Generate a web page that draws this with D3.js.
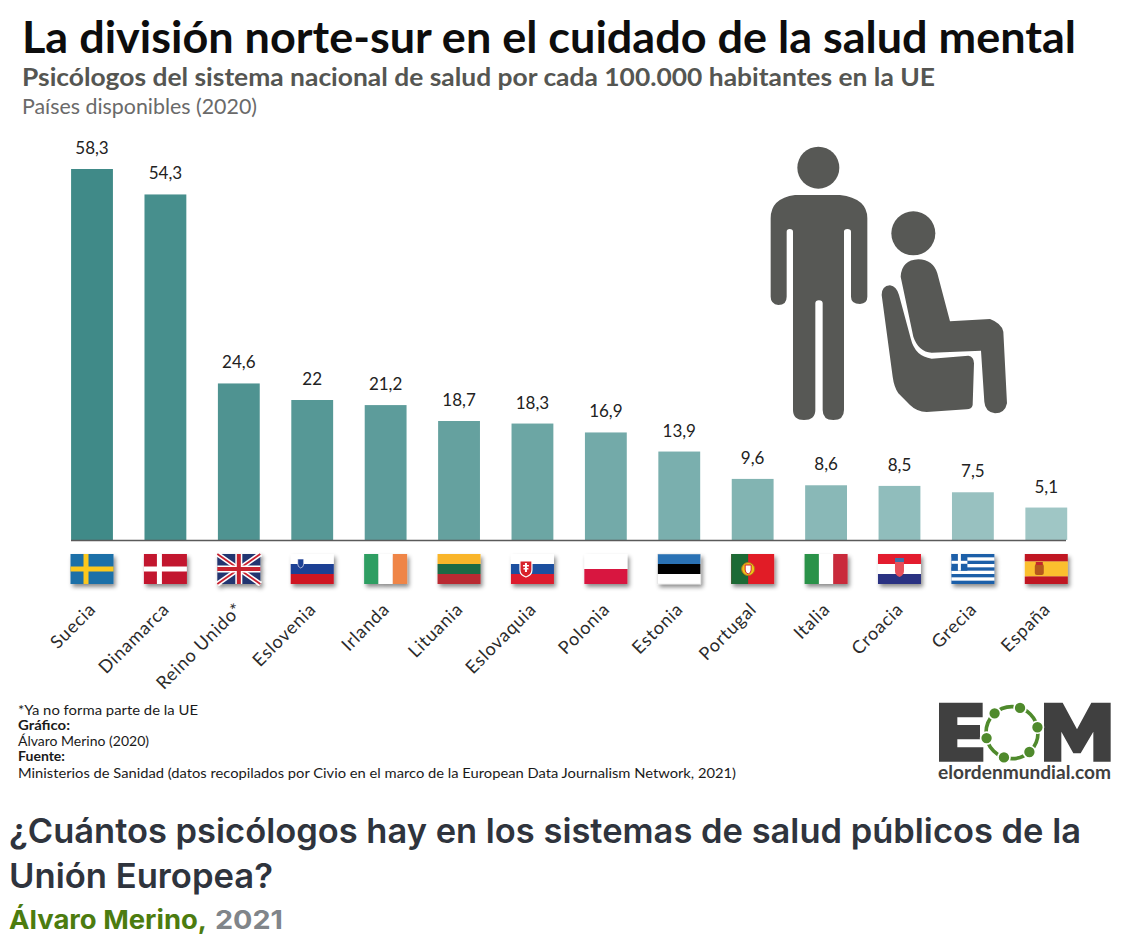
<!DOCTYPE html>
<html><head><meta charset="utf-8">
<script src="https://d3js.org/d3.v7.min.js"></script>
<style>html,body{margin:0;background:#fff}svg{display:block}</style></head>
<body><svg id="c" width="1142" height="950"></svg>
<script>
const countries=["Suecia","Dinamarca","Reino Unido*","Eslovenia","Irlanda","Lituania","Eslovaquia","Polonia","Estonia","Portugal","Italia","Croacia","Grecia","España"];
const values=[58.3,54.3,24.6,22,21.2,18.7,18.3,16.9,13.9,9.6,8.6,8.5,7.5,5.1];
const valueLabels=["58,3","54,3","24,6","22","21,2","18,7","18,3","16,9","13,9","9,6","8,6","8,5","7,5","5,1"];
const flagStripes={
 "Suecia":["#1f6fa8"],"Dinamarca":["#c2172f"],"Reino Unido*":["#24356f"],
 "Eslovenia":["#ffffff","#1f3f94","#cf1421"],"Irlanda":["v","#2f9e62","#ffffff","#ef8547"],
 "Lituania":["#f9b52c","#1f6a45","#b92a32"],"Eslovaquia":["#ffffff","#1b4f9f","#dd1f2d"],
 "Polonia":["#ffffff","#d8143f"],"Estonia":["#2a72b5","#000000","#ffffff"],
 "Portugal":["#e11f26"],"Italia":["v","#2a9249","#ffffff","#c92b3a"],
 "Croacia":["#e31e2d","#ffffff","#2a3382"],"Grecia":["#1f5ea8"],"España":["#c01622","#fbbf2d","#fbbf2d","#c01622"]};
const FONT="'Lato','Noto Sans',sans-serif";
const svg=d3.select("#c");
const defs=svg.append("defs");
const sh=defs.append("filter").attr("id","sh").attr("x","-20%").attr("y","-20%").attr("width","150%").attr("height","170%");
sh.append("feDropShadow").attr("dx",2).attr("dy",3).attr("stdDeviation",2.2).attr("flood-color","#000").attr("flood-opacity",.45);

function txt(s,x,y,size,weight,fill,len,extra){
 const t=svg.append("text").attr("x",x).attr("y",y).attr("font-size",size).attr("font-weight",weight).attr("fill",fill).attr("font-family",extra||FONT).text(s);
 if(len)t.attr("textLength",len).attr("lengthAdjust","spacingAndGlyphs");
 return t;}
txt("La división norte-sur en el cuidado de la salud mental",22,53,43,700,"#0d0d0d",1054);
txt("Psicólogos del sistema nacional de salud por cada 100.000 habitantes en la UE",22,86,24,700,"#555652",913);
txt("Países disponibles (2020)",22,114,22,400,"#6a6a6a",235);

const x=d3.scaleBand().domain(countries).range([55.3,1083]).paddingInner(.43).paddingOuter(.215);
const y=d3.scaleLinear().domain([0,58.3]).range([540,169]);
const col=d3.scaleLinear().domain([0,13]).range(["#408a88","#9fc6c5"]);
svg.append("g").selectAll("rect").data(countries).join("rect")
 .attr("x",d=>x(d)).attr("width",x.bandwidth())
 .attr("y",(d,i)=>y(values[i])).attr("height",(d,i)=>y(0)-y(values[i]))
 .attr("fill",(d,i)=>col(i));
svg.append("line").attr("x1",71).attr("x2",1066).attr("y1",540.5).attr("y2",540.5).attr("stroke","#5a5a5a").attr("stroke-width",1.6);
svg.append("g").selectAll("text").data(countries).join("text")
 .attr("x",d=>x(d)+x.bandwidth()/2).attr("y",(d,i)=>y(values[i])-15)
 .attr("text-anchor","middle").attr("font-family",FONT).attr("font-size",17).attr("fill","#222")
 .text((d,i)=>valueLabels[i]);

const fw=43,fh=30,fy=554;
countries.forEach(c=>{
 const fx=x(c)+x.bandwidth()/2-fw/2;
 const g=svg.append("g").attr("transform",`translate(${fx},${fy})`).attr("filter","url(#sh)");
 let st=flagStripes[c], vert=st[0]==="v"; if(vert)st=st.slice(1);
 const sc=d3.scaleBand().domain(d3.range(st.length)).range([0,vert?fw:fh]);
 st.forEach((f,i)=>{
  if(vert)g.append("rect").attr("x",sc(i)).attr("y",0).attr("width",sc.bandwidth()).attr("height",fh).attr("fill",f);
  else g.append("rect").attr("x",0).attr("y",sc(i)).attr("width",fw).attr("height",sc.bandwidth()).attr("fill",f);
 });
 const R=(a,b,w,h,f)=>g.append("rect").attr("x",a).attr("y",b).attr("width",w).attr("height",h).attr("fill",f);
 const L=(a,b,c2,d,s,w)=>g.append("line").attr("x1",a).attr("y1",b).attr("x2",c2).attr("y2",d).attr("stroke",s).attr("stroke-width",w);
 if(c==="Suecia"){R(13,0,5,fh,"#fcc81e");R(0,12.5,fw,5,"#fcc81e");}
 if(c==="Dinamarca"){R(13,0,5,fh,"#fff");R(0,12.5,fw,5,"#fff");}
 if(c==="Reino Unido*"){
  L(0,0,fw,fh,"#fff",5);L(fw,0,0,fh,"#fff",5);L(0,0,fw,fh,"#c8202f",1.8);L(fw,0,0,fh,"#c8202f",1.8);
  R(18,0,7,fh,"#fff");R(0,11.5,fw,7,"#fff");R(19.5,0,4,fh,"#c8202f");R(0,13,fw,4,"#c8202f");}
 if(c==="Eslovenia"){g.append("path").attr("d","M7 5h6v5q0 3-3 4q-3-1-3-4z").attr("fill","#1f3f94").attr("stroke","#fff").attr("stroke-width",.6);}
 if(c==="Eslovaquia"){g.append("path").attr("d","M9 7h12v9q0 5-6 7q-6-2-6-7z").attr("fill","#d8202c").attr("stroke","#fff").attr("stroke-width",1.2);R(14,9,2,9,"#fff");R(12,11,6,1.5,"#fff");R(12.5,14,5,1.5,"#fff");}
 if(c==="Portugal"){R(0,0,17,fh,"#1f6a34");g.append("circle").attr("cx",17).attr("cy",15).attr("r",6.5).attr("fill","#f0c419").attr("stroke","#b5711c");g.append("path").attr("d","M14 11h6v5q0 3-3 4q-3-1-3-4z").attr("fill","#fff").attr("stroke","#d6202a");}
 if(c==="Croacia"){g.append("path").attr("d","M17 8h9v9q0 4-4.500 6q-4.500-2-4.500-6z").attr("fill","#e8505a");R(17,4,9,4,"#3d6fa8");}
 if(c==="Grecia"){
  d3.range(9).forEach(i=>{if(i%2)R(0,i*fh/9,fw,fh/9,"#fff");});
  R(0,0,16,fh*5/9,"#1f5ea8");R(6.500,0,3,fh*5/9,"#fff");R(0,6.8,16,3,"#fff");}
 if(c==="España"){g.append("rect").attr("x",10).attr("y",10).attr("width",9).attr("height",11).attr("rx",2).attr("fill","#b5591f");R(11,8,7,3,"#c4262e");}
 if(c==="Estonia"){g.append("rect").attr("width",fw).attr("height",fh).attr("fill","none").attr("stroke","#ddd").attr("stroke-width",.5);}
});

svg.append("g").selectAll("text").data(countries).join("text")
 .attr("transform",d=>`translate(${x(d)+x.bandwidth()/2+0.5},606) rotate(-45)`)
 .attr("text-anchor","end").attr("dy","0.35em").attr("font-family",FONT).attr("font-size",18).attr("font-weight",400).attr("letter-spacing",0.75).attr("fill","#2b2b2b").text(d=>d);

// pictogram
const pg=svg.append("g").attr("transform","translate(750,130) scale(0.33333)").attr("fill","#575855");
pg.append("circle").attr("cx",205).attr("cy",113).attr("r",63);
pg.append("path").attr("d","M135 195H270Q352 205 352 265V500Q352 520 330 522Q303 522 303 500V305Q303 297 292 297Q282 297 282 305V840Q282 870 250 870Q218 870 218 840V520Q218 511 207 511Q196 511 196 520V840Q196 870 162 870Q129 870 129 840V305Q129 297 119 297Q110 297 110 305V500Q110 525 85 525Q62 522 62 500V265Q62 205 135 195Z");
pg.append("circle").attr("cx",490).attr("cy",310).attr("r",66);
pg.append("path").attr("d","M452 440Q455 390 505 388Q550 390 562 430L600 574L720 567Q755 580 760 605L771 820Q765 850 735 850Q705 845 703 815L693 662L545 668Q505 665 490 620Z");
pg.append("path").attr("d","M395 495Q395 468 420 466Q440 470 447 495L482 625Q495 680 545 686L655 677Q672 680 672 700L668 825Q665 838 650 838L530 846Q500 845 480 825L445 790Q432 770 428 740Z");

// footer notes
[["*Ya no forma parte de la UE",400,180,715],["Gráfico:",700,52,730],["Álvaro Merino (2020)",400,131,746],["Fuente:",700,47,761],
 ["Ministerios de Sanidad (datos recopilados por Civio en el marco de la European Data Journalism Network, 2021)",400,718,778]]
 .forEach(r=>txt(r[0],18,r[3],13,r[1],"#1a1a1a",r[2]));

// logo
const lg=svg.append("g").attr("transform","translate(920,690) scale(0.33333)");
lg.append("path").attr("fill","#404040").attr("d","M57 38H188V82H112V105H180V148H112V172H190V215H57Z");
lg.append("path").attr("fill","#404040").attr("d","M372 215V38H428L471 118L514 38H572V215H520V125L482 190H460L424 125V215Z");
lg.append("circle").attr("cx",276).attr("cy",128).attr("r",78).attr("fill","none").attr("stroke","#4f8a2c").attr("stroke-width",11);
d3.range(6).forEach(i=>{const a=(-132+i*60)*Math.PI/180;
 lg.append("circle").attr("cx",276+78*Math.cos(a)).attr("cy",128+78*Math.sin(a)).attr("r",18).attr("fill","#4f8a2c").attr("stroke","#fff").attr("stroke-width",5);});
txt("elordenmundial.com",938,779,18,700,"#404040",173);

// page caption
const cap="'Inter','Noto Sans',sans-serif";
txt("¿Cuántos psicólogos hay en los sistemas de salud públicos de la",9,843,34,600,"#2f343d",1072,cap);
txt("Unión Europea?",9,888,34,600,"#2f343d",264,cap);
txt("Álvaro Merino,",9,929,26,700,"#4c7c0f",198,cap);
txt("2021",215,929,26,700,"#80858a",68,cap);
</script></body></html>
